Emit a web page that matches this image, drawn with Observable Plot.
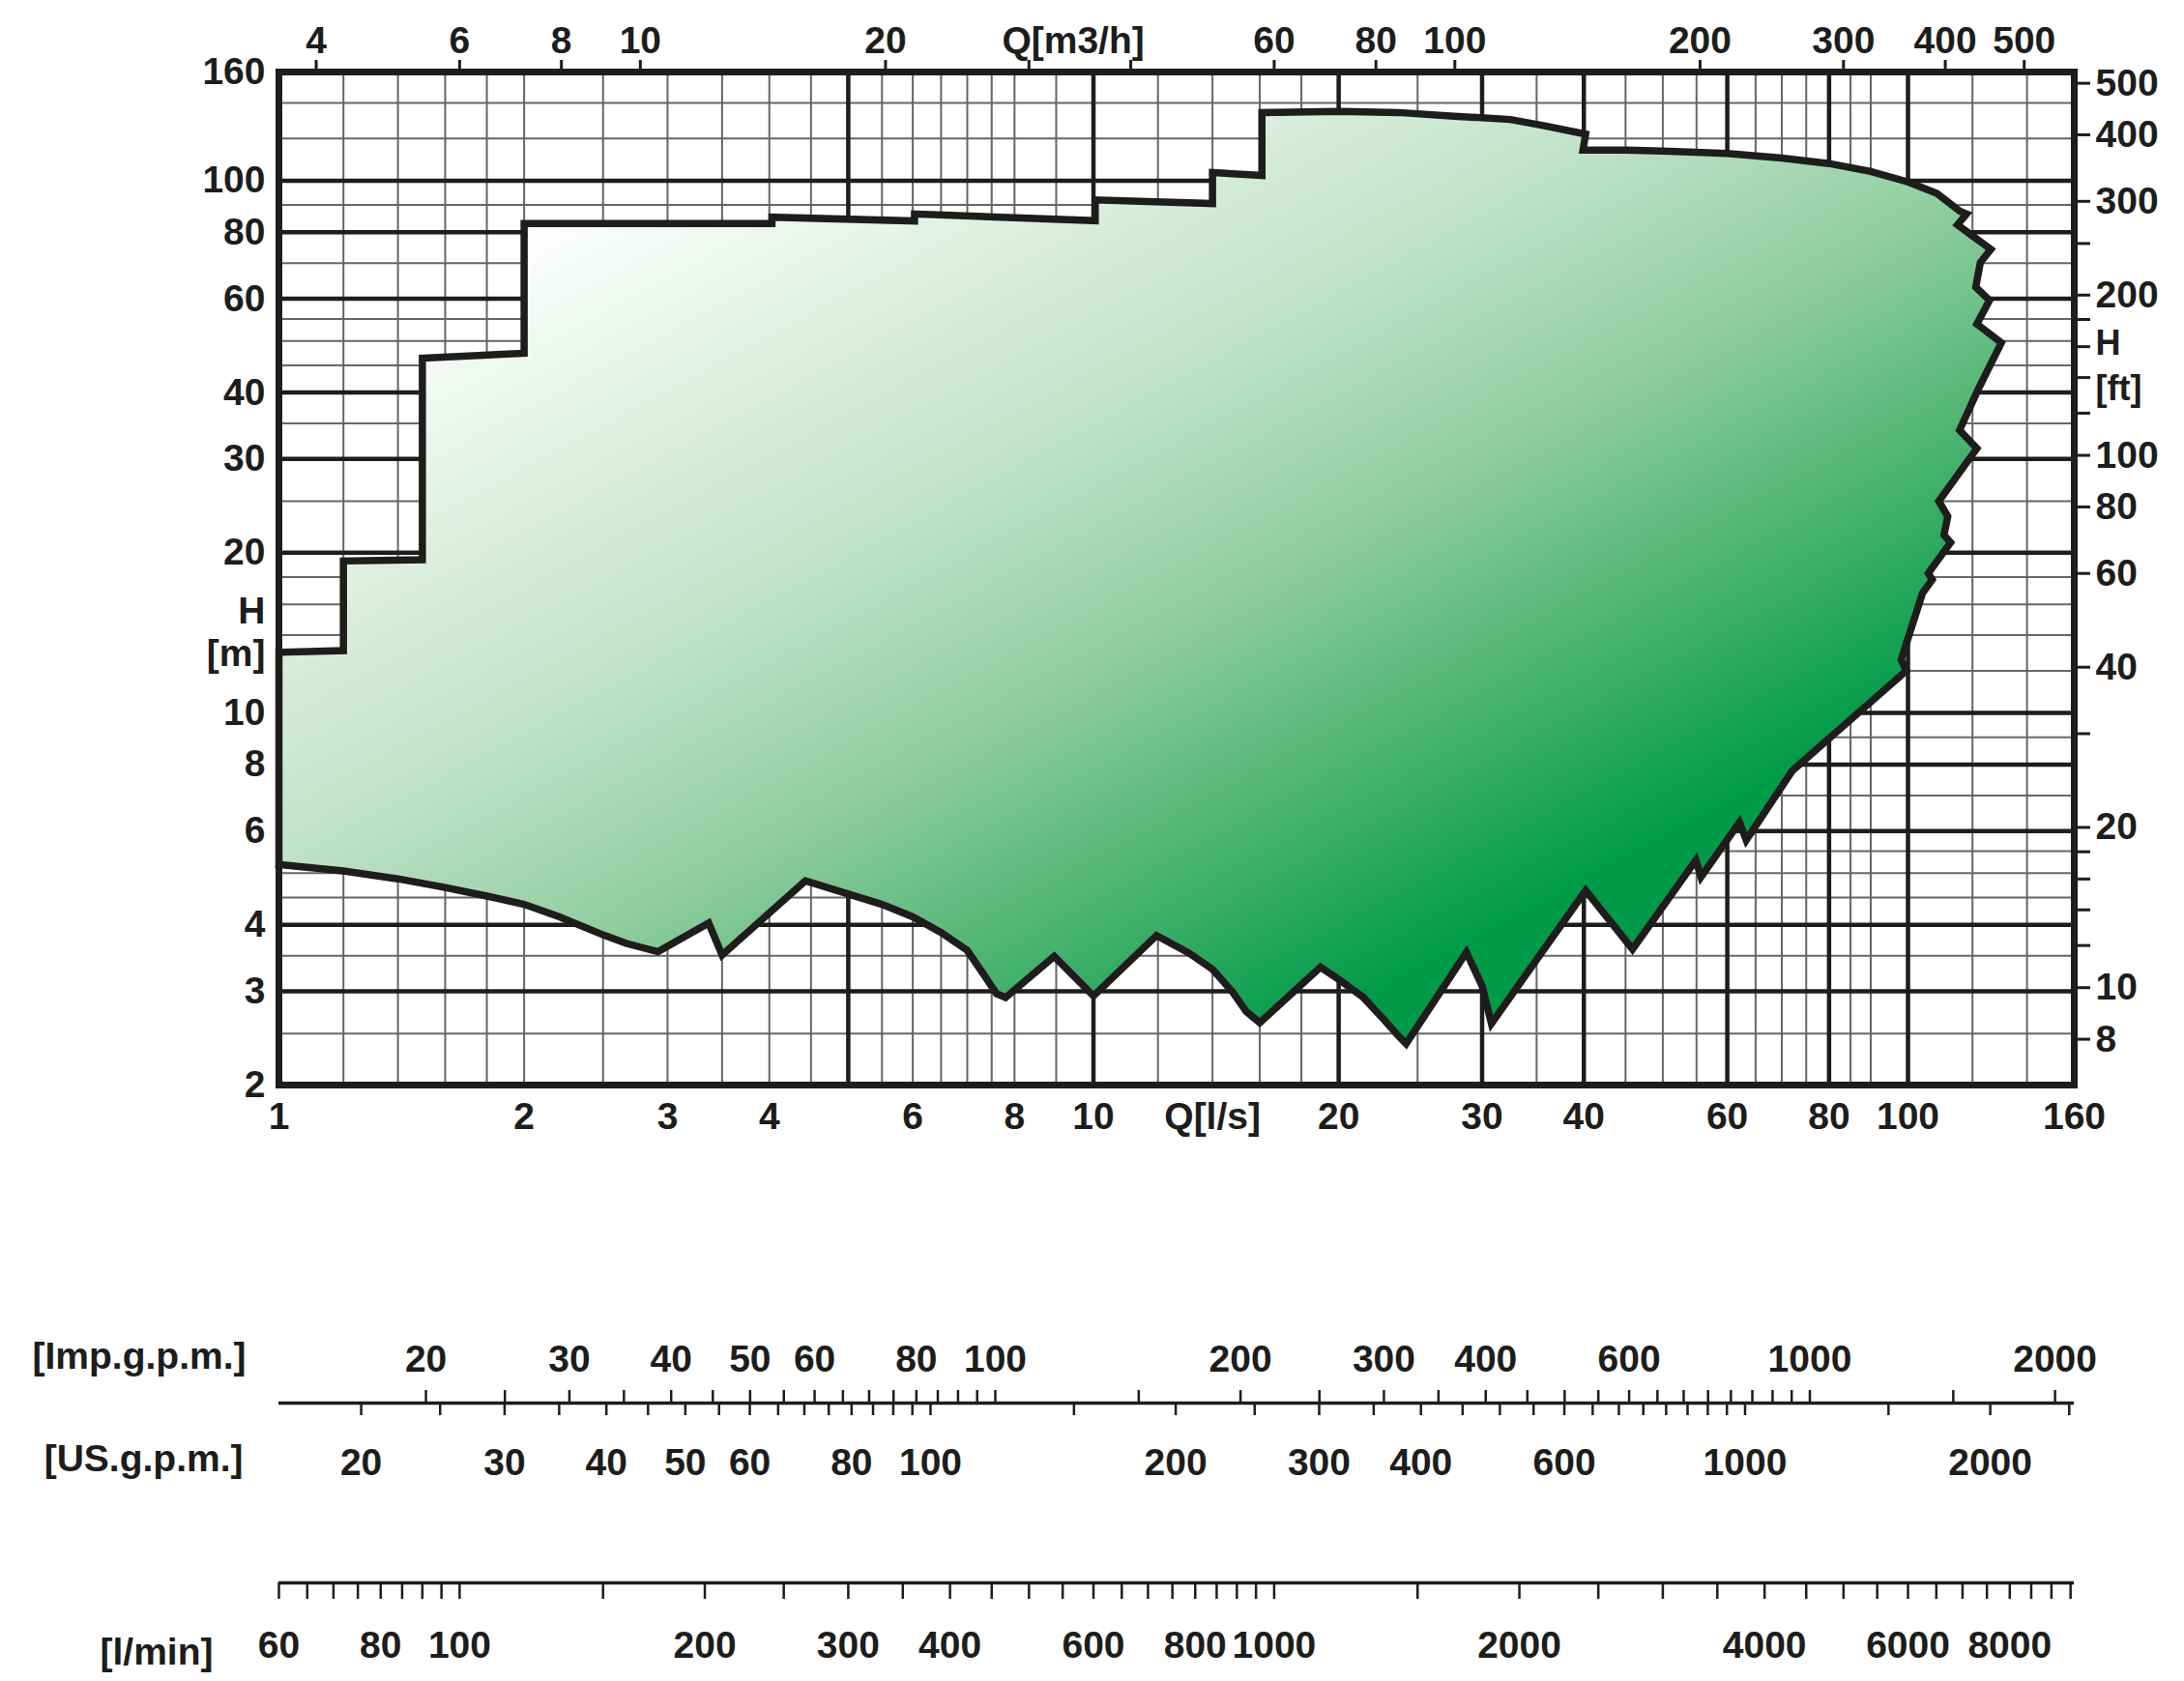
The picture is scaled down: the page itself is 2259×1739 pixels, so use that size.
<!DOCTYPE html>
<html>
<head>
<meta charset="utf-8">
<script src="https://cdn.jsdelivr.net/npm/d3@7"></script>
<script src="https://cdn.jsdelivr.net/npm/@observablehq/plot@0.6"></script>
<style>
  html, body { margin: 0; padding: 0; background: #ffffff; }
  #chart svg { display: block; }
</style>
</head>
<body>
<div id="chart"></div>
<script>
// ---------- data ----------
const Q_DOMAIN = [1, 160];      // l/s
const H_DOMAIN = [2, 160];      // m

// envelope of the pump range (clockwise from bottom-left)
const envelopeQ = [1, 1, 1.2, 1.2, 1.5, 1.5, 2, 2, 4.03, 4.03, 6.03, 6.03, 10.05, 10.05, 14, 14,
  16.1, 16.1, 20.1, 23.7, 27.7, 32.5, 35.8, 40.2, 39.9, 45, 50, 60, 70, 80, 90, 100, 108.5, 115.8, 118,
  115, 126.4, 122.7, 121.1, 125.9, 121.5, 130.2, 122, 115.7, 121.5, 109.1, 111.9, 110.7, 112.8, 105.9,
  107.1, 104.2, 98.1, 99.5, 72.1, 63.3, 62.1, 55.7, 54.9, 45.9,
  40.2, 30.8, 30, 28.7, 24.2, 23.7, 22.7, 21.4, 20, 19.0, 16, 15.4, 14.82, 14, 13.1, 11.95, 10, 8.95,
  7.8, 7.6, 7.35, 7, 6.5, 6, 5.5, 5, 4.43, 3.5, 3.37, 2.92, 2.67, 2.5, 2.21, 2.0, 1.8, 1.6, 1.4, 1.2, 1];
const envelopeH = [5.19, 13.0, 13.1, 19.3, 19.4, 46.4, 47.4, 83.1, 83.1, 85.4, 84.0, 86.6, 84.1, 92.0, 90.6, 103.6,
  102.3, 134.3, 134.9, 134.3, 132.2, 130.3, 126.8, 122.3, 114.2, 114.1, 113.7, 112.5, 110.3, 107.7, 104.1, 99.45, 94.7, 87.6, 86.6,
  82.6, 74.3, 70.2, 63.1, 59.6, 53.8, 49.6, 40.6, 34.0, 31.4, 25.0, 23.4, 21.6, 20.9, 18.3,
  17.8, 16.8, 12.6, 12.0, 7.79, 5.77, 6.23, 4.92, 5.29, 3.6,
  4.64, 2.61, 3.07, 3.55, 2.39, 2.47, 2.66, 2.93, 3.16, 3.33, 2.62, 2.75, 2.99, 3.30, 3.54, 3.82, 2.94, 3.49,
  2.92, 2.97, 3.21, 3.58, 3.87, 4.14, 4.37, 4.57, 4.84, 3.51, 4.03, 3.56, 3.69, 3.83, 4.14, 4.37, 4.53, 4.70, 4.88, 5.05, 5.19];

// grid lines
const gridThickQ = [5, 10, 20, 30, 40, 60, 80, 100];
const gridThinQ = [1.2, 1.4, 1.6, 1.8, 2, 2.5, 3, 3.5, 4, 4.5, 5.5, 6, 6.5, 7, 7.5, 8, 9, 12, 14, 16, 18,
  25, 35, 45, 50, 55, 65, 70, 75, 85, 90, 120, 140];
const gridThickH = [3, 4, 6, 8, 10, 20, 30, 40, 60, 80, 100];
const gridThinH = [2.5, 3.5, 4.5, 5, 5.5, 7, 9, 12, 14, 16, 18, 25, 35, 45, 50, 55, 70, 90, 120, 140];

// axis ticks and labels
const lsLabels = [1, 2, 3, 4, 6, 8, 10, 20, 30, 40, 60, 80, 100, 160];
const mLabels = [2, 3, 4, 6, 8, 10, 20, 30, 40, 60, 80, 100, 160];
const m3hTicks = [4, 6, 8, 10, 20, 30, 40, 60, 80, 100, 200, 300, 400, 500];
const m3hLabels = [4, 6, 8, 10, 20, 60, 80, 100, 200, 300, 400, 500];
const ftTicks = [8, 10, 12, 14, 16, 18, 20, 30, 40, 60, 80, 100, 120, 140, 160, 180, 200, 250, 300, 400, 500];
const ftLabels = [8, 10, 20, 40, 60, 80, 100, 200, 300, 400, 500];
const lminTicks = [60, 65, 70, 75, 80, 85, 90, 95, 100, 150, 200, 250, 300, 350, 400, 450, 500, 550, 600,
  650, 700, 750, 800, 850, 900, 950, 1000, 1500, 2000, 2500, 3000, 3500, 4000, 4500, 5000, 5500, 6000,
  6500, 7000, 7500, 8000, 8500, 9000, 9500];
const lminLabels = [60, 80, 100, 200, 300, 400, 600, 800, 1000, 2000, 4000, 6000, 8000];
const usTicks = [20, 25, 30, 35, 40, 45, 50, 55, 60, 65, 70, 75, 80, 85, 90, 95, 100, 150, 200, 250, 300,
  350, 400, 450, 500, 550, 600, 650, 700, 750, 800, 850, 900, 950, 1000, 1500, 2000, 2500];
const usLabels = [20, 30, 40, 50, 60, 80, 100, 200, 300, 400, 600, 1000, 2000];
const impTicks = [20, 25, 30, 35, 40, 45, 50, 55, 60, 65, 70, 75, 80, 85, 90, 95, 100, 150, 200, 250, 300,
  350, 400, 450, 500, 550, 600, 650, 700, 750, 800, 850, 900, 950, 1000, 1500, 2000];
const impLabels = [20, 30, 40, 50, 60, 80, 100, 200, 300, 400, 600, 1000, 2000];

// unit conversions (per l/s, per m)
const M3H_PER_LS = 3.6;
const LMIN_PER_LS = 60;
const USGPM_PER_LS = 15.8503;
const IMPGPM_PER_LS = 13.1981;
const FT_PER_M = 3.28084;

// ---------- build ----------
const envelope = envelopeQ.map((q, i) => ({q, h: envelopeH[i]}));
const ink = "#1d1d1b";
const fmtFrom = (factor, labels) => d => {
  const v = Math.round(d * factor);
  return labels.includes(v) ? String(v) : "";
};

const chart = Plot.plot({
  width: 2259,
  height: 1739,
  marginLeft: 288,
  marginRight: 114,
  marginTop: 74,
  marginBottom: 617,
  style: {
    fontFamily: "'Liberation Sans', Arial, Helvetica, sans-serif",
    fontWeight: "bold",
    fontSize: "39px",
    color: ink,
    background: "#ffffff",
    overflow: "visible"
  },
  x: {type: "log", domain: Q_DOMAIN, label: null, axis: null},
  y: {type: "log", domain: H_DOMAIN, label: null, axis: null},
  marks: [
    // grid
    Plot.ruleX(gridThinQ, {stroke: "#666666", strokeWidth: 2}),
    Plot.ruleY(gridThinH, {stroke: "#666666", strokeWidth: 2}),
    Plot.ruleX(gridThickQ, {stroke: ink, strokeWidth: 4.5}),
    Plot.ruleY(gridThickH, {stroke: ink, strokeWidth: 4.5}),
    // envelope
    Plot.line(envelope, {
      x: "q", y: "h", curve: "linear",
      fill: "url(#envelopeShade)", stroke: ink, strokeWidth: 7.5,
      strokeLinejoin: "miter", strokeMiterlimit: 6, strokeLinecap: "square"
    }),
    Plot.frame({stroke: ink, strokeWidth: 7}),
    // bottom: Q [l/s]
    Plot.axisX(lsLabels, {anchor: "bottom", tickSize: 0, tickPadding: 18, label: null}),
    Plot.axisX([14], {anchor: "bottom", tickSize: 0, tickPadding: 18, label: null, tickFormat: () => "Q[l/s]"}),
    // top: Q [m3/h]
    Plot.axisX(m3hTicks.map(v => v / M3H_PER_LS), {
      anchor: "top", tickSize: 13, tickPadding: 7, strokeWidth: 3, label: null,
      tickFormat: fmtFrom(M3H_PER_LS, m3hLabels)
    }),
    Plot.axisX([34 / M3H_PER_LS], {anchor: "top", tickSize: 0, tickPadding: 20, label: null, tickFormat: () => "Q[m3/h]"}),
    // left: H [m]
    Plot.axisY(mLabels, {anchor: "left", tickSize: 0, tickPadding: 14, label: null}),
    Plot.axisY([15.5], {anchor: "left", tickSize: 0, tickPadding: 14, label: null, tickFormat: () => "H"}),
    Plot.axisY([12.9], {anchor: "left", tickSize: 0, tickPadding: 14, label: null, tickFormat: () => "[m]"}),
    // right: H [ft]
    Plot.axisY(ftTicks.map(v => v / FT_PER_M), {
      anchor: "right", tickSize: 16, tickPadding: 6, strokeWidth: 3, label: null,
      tickFormat: fmtFrom(FT_PER_M, ftLabels)
    }),
    Plot.axisY([160 / FT_PER_M], {anchor: "right", tickSize: 0, tickPadding: 22, dy: -3, fontSize: 36, label: null, tickFormat: () => "H"}),
    Plot.axisY([140 / FT_PER_M], {anchor: "right", tickSize: 0, tickPadding: 22, dy: 12, fontSize: 36, label: null, tickFormat: () => "[ft]"}),
    // secondary flow scales below the chart
    Plot.ruleY([H_DOMAIN[0]], {dy: 329, stroke: ink, strokeWidth: 3.5}),
    Plot.axisX(impTicks.map(v => v / IMPGPM_PER_LS), {
      anchor: "top", dy: 1377, tickSize: 14, tickPadding: 19, strokeWidth: 2.5, label: null,
      tickFormat: fmtFrom(IMPGPM_PER_LS, impLabels)
    }),
    Plot.axisX(usTicks.map(v => v / USGPM_PER_LS), {
      anchor: "bottom", dy: 329, tickSize: 13, tickPadding: 34, strokeWidth: 2.5, label: null,
      tickFormat: fmtFrom(USGPM_PER_LS, usLabels)
    }),
    Plot.ruleY([H_DOMAIN[0]], {dy: 515, stroke: ink, strokeWidth: 3.5}),
    Plot.axisX(lminTicks.map(v => v / LMIN_PER_LS), {
      anchor: "bottom", dy: 515, tickSize: 17, tickPadding: 33, strokeWidth: 2.5, label: null,
      tickFormat: fmtFrom(LMIN_PER_LS, lminLabels)
    }),
    Plot.text(["[Imp.g.p.m.]"], {frameAnchor: "bottom-left", dx: -34, dy: 293, textAnchor: "end"}),
    Plot.text(["[US.g.p.m.]"], {frameAnchor: "bottom-left", dx: -37, dy: 399, textAnchor: "end"}),
    Plot.text(["[l/min]"], {frameAnchor: "bottom-left", dx: -68, dy: 599, textAnchor: "end"})
  ]
});

// diagonal white-to-green shading of the envelope
const defs = d3.select(chart).insert("defs", ":first-child");
const grad = defs.append("linearGradient")
  .attr("id", "envelopeShade")
  .attr("x1", 0).attr("y1", 0).attr("x2", 1).attr("y2", 1);
[[0.0, "#ffffff"], [0.13, "#ffffff"], [0.4, "#c0e2c8"], [0.53, "#92cea0"], [0.66, "#4db473"],
 [0.79, "#009b48"], [1, "#009b48"]]
  .forEach(([o, c]) => grad.append("stop").attr("offset", o).attr("stop-color", c));

document.getElementById("chart").appendChild(chart);
</script>
</body>
</html>
